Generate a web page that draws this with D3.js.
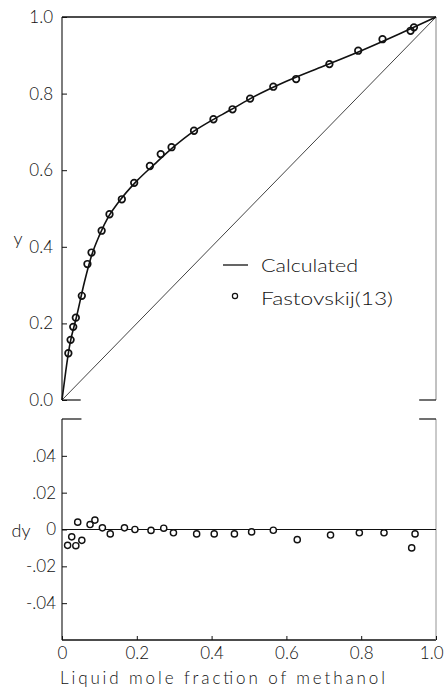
<!DOCTYPE html>
<html>
<head>
<meta charset="utf-8">
<script src="https://cdn.jsdelivr.net/npm/d3@7"></script>
<style>
  html, body { margin: 0; padding: 0; background: #fff; }
  svg { display: block; }
  text { font-family: Lato, "Open Sans", "DejaVu Sans", sans-serif; font-weight: 300; fill: #111; }
</style>
</head>
<body>
<svg id="chart" width="444" height="687"></svg>
<script>
// ---- data ----
const calcX = [0, 0.01, 0.02, 0.04, 0.06, 0.08, 0.10, 0.125, 0.15, 0.20, 0.25, 0.30, 0.35, 0.40, 0.45, 0.50, 0.60, 0.70, 0.80, 0.90, 1.0];
const calcY = [0, 0.075, 0.14, 0.222, 0.308, 0.38, 0.43, 0.48, 0.515, 0.572, 0.618, 0.662, 0.700, 0.730, 0.757, 0.785, 0.832, 0.872, 0.912, 0.955, 1.0];

const expX = [0.017, 0.023, 0.030, 0.037, 0.053, 0.068, 0.079, 0.106, 0.127, 0.160, 0.193, 0.235, 0.264, 0.293, 0.353, 0.405, 0.456, 0.503, 0.565, 0.626, 0.715, 0.792, 0.857, 0.932, 0.941];
const expY = [0.122, 0.157, 0.191, 0.215, 0.272, 0.355, 0.385, 0.442, 0.485, 0.524, 0.567, 0.611, 0.642, 0.660, 0.703, 0.733, 0.759, 0.787, 0.818, 0.838, 0.877, 0.912, 0.942, 0.964, 0.973];

const devX = [0.015, 0.026, 0.037, 0.042, 0.053, 0.075, 0.088, 0.108, 0.129, 0.167, 0.195, 0.238, 0.272, 0.298, 0.360, 0.407, 0.461, 0.507, 0.565, 0.629, 0.718, 0.795, 0.861, 0.935, 0.944];
const devY = [-0.0086, -0.004, -0.0088, 0.004, -0.0059, 0.0027, 0.0051, 0.0009, -0.0024, 0.0009, 0.0, -0.0005, 0.0007, -0.0018, -0.0024, -0.0024, -0.0024, -0.0013, -0.0004, -0.0055, -0.003, -0.0018, -0.0018, -0.010, -0.0024];

const xTicks = [0, 0.2, 0.4, 0.6, 0.8, 1.0];
const xTickLabels = ["0", "0.2", "0.4", "0.6", "0.8", "1.0"];
const yTicks = [0, 0.2, 0.4, 0.6, 0.8, 1.0];
const yTickLabels = ["0.0", "0.2", "0.4", "0.6", "0.8", "1.0"];
const dyTicks = [-0.04, -0.02, 0, 0.02, 0.04];
const dyTickLabels = ["-.04", "-.02", "0", ".02", ".04"];
const legendLabels = ["Calculated", "Fastovskij(13)"];

// ---- scales ----
const svg = d3.select("#chart");
const x = d3.scaleLinear().domain([0, 1]).range([62, 436]);
const yT = d3.scaleLinear().domain([0, 1]).range([400, 17]);
const yB = d3.scaleLinear().domain([-0.06, 0.06]).range([640, 419]);

const ink = "#111";

// ---- top panel frame ----
const g = svg.append("g");
function seg(x1, y1, x2, y2, w, c) {
  g.append("line").attr("x1", x1).attr("y1", y1).attr("x2", x2).attr("y2", y2)
    .attr("stroke", c || ink).attr("stroke-width", w);
}
seg(x(0), yT(1), x(1), yT(1), 1.3);             // top
seg(x(0), yT(1), x(0), yT(0), 1.1);             // left
seg(x(1), yT(1), x(1), yT(0), 0.9, "#777");     // right (faint)
seg(x(0), yT(0), x(0.05), yT(0), 1.2);          // bottom stubs
seg(x(0.955), yT(0), x(1), yT(0), 1.2);

// top y axis
const axT = d3.axisLeft(yT).tickValues(yTicks)
  .tickFormat((d, i) => yTickLabels[i]).tickSizeInner(-5).tickSizeOuter(0).tickPadding(9);
const gT = svg.append("g").attr("transform", `translate(${x(0)},0)`).call(axT);
gT.select(".domain").remove();
gT.selectAll("line").attr("stroke", ink).attr("stroke-width", 1);
gT.selectAll("text").attr("font-size", 17).attr("font-family", "Lato, 'Open Sans', sans-serif").attr("font-weight", 300).attr("fill", ink);

// diagonal
svg.append("line").attr("x1", x(0)).attr("y1", yT(0)).attr("x2", x(1)).attr("y2", yT(1))
  .attr("stroke", ink).attr("stroke-width", 0.8);

// calculated curve
const calc = calcX.map((v, i) => [v, calcY[i]]);
svg.append("path").datum(calc)
  .attr("d", d3.line().x(d => x(d[0])).y(d => yT(d[1])).curve(d3.curveMonotoneX))
  .attr("fill", "none").attr("stroke", ink).attr("stroke-width", 1.6);

// experimental points
const exp = expX.map((v, i) => [v, expY[i]]);
svg.append("g").selectAll("circle").data(exp).join("circle")
  .attr("cx", d => x(d[0])).attr("cy", d => yT(d[1])).attr("r", 3.3)
  .attr("fill", "none").attr("stroke", ink).attr("stroke-width", 1.7);

// y label
svg.append("text").attr("x", 18).attr("y", 238).attr("text-anchor", "middle")
  .attr("dominant-baseline", "central").attr("font-size", 18).text("y");

// legend
svg.append("line").attr("x1", 223).attr("x2", 248).attr("y1", 265).attr("y2", 265)
  .attr("stroke", ink).attr("stroke-width", 1.3);
svg.append("circle").attr("cx", 235).attr("cy", 296).attr("r", 2.6)
  .attr("fill", "none").attr("stroke", ink).attr("stroke-width", 1.2);
svg.append("text").attr("x", 261).attr("y", 265).attr("dominant-baseline", "central")
  .attr("font-size", 17).attr("textLength", 97).attr("lengthAdjust", "spacingAndGlyphs").text(legendLabels[0]);
svg.append("text").attr("x", 261).attr("y", 298).attr("dominant-baseline", "central")
  .attr("font-size", 17).attr("textLength", 132).attr("lengthAdjust", "spacingAndGlyphs").text(legendLabels[1]);

// ---- bottom panel ----
seg(x(0), yB(0.06), x(0), yB(-0.06), 1.1);           // left
seg(x(0), yB(-0.06), x(1), yB(-0.06), 1.3);          // bottom
seg(x(1), yB(0.06), x(1), yB(-0.06), 0.9, "#888");   // right faint
seg(x(0), yB(0.06), x(0.052), yB(0.06), 1.2);        // top stubs
seg(x(0.955), yB(0.06), x(1), yB(0.06), 1.2);
seg(x(0), yB(0), x(1), yB(0), 1.2);                  // zero line

const axB = d3.axisLeft(yB).tickValues(dyTicks)
  .tickFormat((d, i) => dyTickLabels[i]).tickSizeInner(-5).tickSizeOuter(0).tickPadding(6);
const gB = svg.append("g").attr("transform", `translate(${x(0)},0)`).call(axB);
gB.select(".domain").remove();
gB.selectAll("line").attr("stroke", ink).attr("stroke-width", 1);
gB.selectAll("text").attr("font-size", 17).attr("font-family", "Lato, 'Open Sans', sans-serif").attr("font-weight", 300).attr("fill", ink);

const axX = d3.axisBottom(x).tickValues(xTicks)
  .tickFormat((d, i) => xTickLabels[i]).tickSizeInner(-4).tickSizeOuter(0).tickPadding(7);
const gX = svg.append("g").attr("transform", `translate(0,${yB(-0.06)})`).call(axX);
gX.select(".domain").remove();
gX.selectAll("line").attr("stroke", ink).attr("stroke-width", 1);
gX.selectAll("text").attr("font-size", 17).attr("font-family", "Lato, 'Open Sans', sans-serif").attr("font-weight", 300).attr("fill", ink);
// keep the last label inside the page
gX.selectAll(".tick").filter(d => d === 1).select("text")
  .attr("text-anchor", "end").attr("x", 443 - x(1));

const dev = devX.map((v, i) => [v, devY[i]]);
svg.append("g").selectAll("circle").data(dev).join("circle")
  .attr("cx", d => x(d[0])).attr("cy", d => yB(d[1])).attr("r", 3.1)
  .attr("fill", "#fff").attr("stroke", ink).attr("stroke-width", 1.4);

svg.append("text").attr("x", 21).attr("y", 530).attr("text-anchor", "middle")
  .attr("dominant-baseline", "central").attr("font-size", 18).text("dy");

svg.append("text").attr("x", 60).attr("y", 677).attr("dominant-baseline", "central")
  .attr("font-size", 17).attr("textLength", 325).attr("lengthAdjust", "spacing")
  .text("Liquid mole fraction of methanol");
</script>
</body>
</html>
